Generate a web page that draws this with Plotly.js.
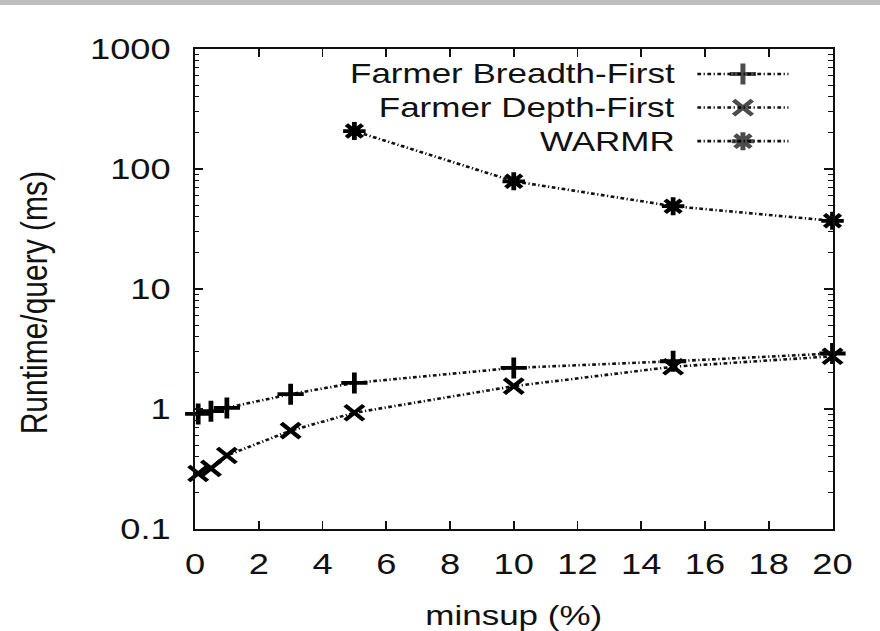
<!DOCTYPE html>
<html>
<head>
<meta charset="utf-8">
<script src="https://cdn.plot.ly/plotly-3.0.1.min.js"></script>
<style>
html,body{margin:0;padding:0;background:#fff;overflow:hidden;}
#wrap{position:relative;width:880px;height:631px;overflow:hidden;}
#chart{width:704px;height:631px;transform:scaleX(1.25);transform-origin:0 0;}
#band{position:absolute;left:0;top:0;width:880px;height:5px;background:#bdbdbd;}
</style>
</head>
<body>
<div id="wrap"><div id="chart"></div><div id="band"></div></div>
<script>
// Data
const seriesNames = ["Farmer Breadth-First", "Farmer Depth-First", "WARMR"];
const farmerX = [0.1, 0.5, 1, 3, 5, 10, 15, 20];
const breadthY = [0.91, 0.96, 1.02, 1.33, 1.65, 2.2, 2.5, 2.9];
const depthY = [0.29, 0.32, 0.41, 0.66, 0.93, 1.55, 2.25, 2.75];
const warmrX = [5, 10, 15, 20];
const warmrY = [207, 79, 49, 37];
const yTickVals = [0.1, 1, 10, 100, 1000];
const yTickText = ["0.1", "1", "10", "100", "1000"];
const xTitle = "minsup (%)";
const yTitle = "Runtime/query (ms)";

const FONT = "Liberation Sans, Arial, Helvetica, sans-serif";
const INK = "#111";
const MARK = "#000";
const symbols = ["cross-thin-open", "x-thin-open", "asterisk-open"];
const dashPat = "3px,2px,1px,2px";

const minorVals = [];
for (let e = -1; e < 3; e++) {
  for (let m = 2; m <= 9; m++) minorVals.push(m * Math.pow(10, e));
}

function series(x, y, i) {
  return {
    x: x, y: y, type: "scatter", mode: "lines+markers", name: seriesNames[i],
    showlegend: false,
    line: {color: INK, width: 2.6, dash: dashPat},
    marker: {symbol: symbols[i], size: 15, color: MARK, line: {color: MARK, width: 3.8}},
    cliponaxis: false
  };
}

const traces = [
  series(farmerX, breadthY, 0),
  series(farmerX, depthY, 1),
  series(warmrX, warmrY, 2)
];

// Legend (gnuplot style: right-aligned text, sample to the right)
const legTop = 0.948, legStep = 0.07;
const legX0 = 0.788, legX1 = 0.931;
const annotations = [];
seriesNames.forEach((n, i) => {
  const yy = legTop - i * legStep;
  annotations.push({
    xref: "paper", yref: "paper", x: 0.757, y: yy, xanchor: "right", yanchor: "middle",
    text: n, showarrow: false, font: {family: FONT, size: 28, color: INK}
  });
  traces.push({
    x: [legX0, (legX0 + legX1) / 2, legX1], y: [yy, yy, yy],
    xaxis: "x2", yaxis: "y2", type: "scatter", mode: "lines+markers",
    showlegend: false, hoverinfo: "skip",
    line: {color: INK, width: 2.6, dash: dashPat},
    marker: {symbol: symbols[i], size: [0, 15, 0], color: MARK, line: {color: MARK, width: 4}}
  });
});
// y-axis title as a rotated annotation
annotations.push({
  xref: "paper", yref: "paper", x: -0.252, y: 0.471, xanchor: "center", yanchor: "middle",
  textangle: -90, text: yTitle, showarrow: false, font: {family: FONT, size: 30, color: INK}
});

const layout = {
  width: 704, height: 631,
  margin: {l: 156, r: 38.4, t: 49, b: 102},
  paper_bgcolor: "#fff", plot_bgcolor: "#fff",
  font: {family: FONT, color: INK, size: 28},
  showlegend: false,
  xaxis: {
    range: [0, 20], dtick: 2, tick0: 0,
    ticks: "inside", ticklen: 8, tickwidth: 1.5, tickcolor: INK,
    showline: true, linecolor: INK, linewidth: 2, mirror: "ticks",
    showgrid: false, zeroline: false,
    ticklabelstandoff: 8,
    tickfont: {family: FONT, size: 29, color: INK},
    title: {text: xTitle, font: {family: FONT, size: 28, color: INK}, standoff: 28}
  },
  yaxis: {
    type: "log", range: [-1, 3],
    tickvals: yTickVals, ticktext: yTickText,
    ticks: "inside", ticklen: 6.5, tickwidth: 1.5, tickcolor: INK,
    minor: {tickvals: minorVals, ticks: "inside", ticklen: 3.5, tickwidth: 1, tickcolor: INK, showgrid: false},
    showline: true, linecolor: INK, linewidth: 1.7, mirror: "ticks",
    showgrid: false, zeroline: false,
    ticklabelstandoff: 12,
    tickfont: {family: FONT, size: 29, color: INK}
  },
  xaxis2: {domain: [0, 1], range: [0, 1], visible: false, overlaying: "x", fixedrange: true},
  yaxis2: {domain: [0, 1], range: [0, 1], visible: false, overlaying: "y", fixedrange: true},
  annotations: annotations
};

Plotly.newPlot("chart", traces, layout, {displayModeBar: false, staticPlot: true});
</script>
</body>
</html>
